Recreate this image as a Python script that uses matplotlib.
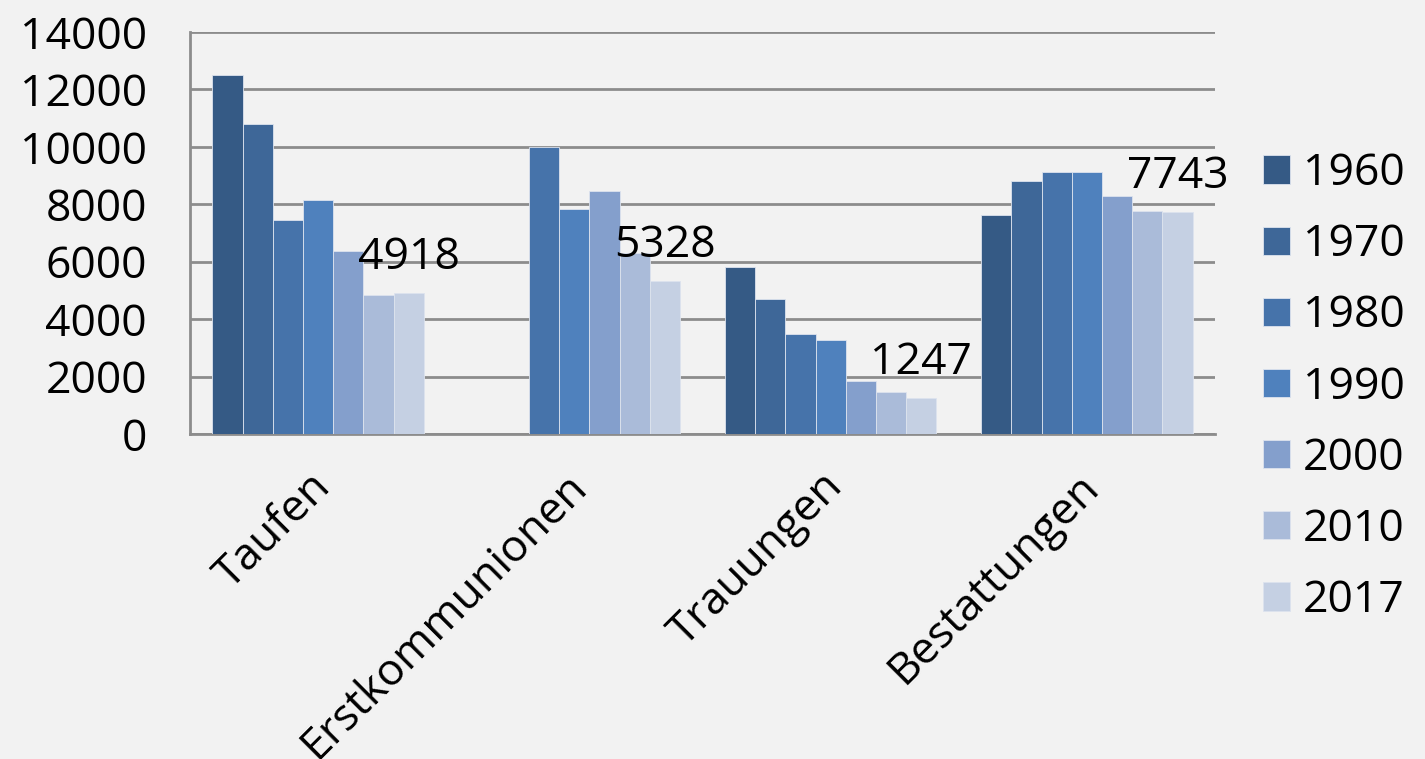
import numpy as np
import matplotlib.pyplot as plt
from matplotlib.transforms import ScaledTranslation

categories = ["Taufen", "Erstkommunionen", "Trauungen", "Bestattungen"]
years = ["1960", "1970", "1980", "1990", "2000", "2010", "2017"]
v1960 = [12500, np.nan, 5830, 7620]
v1970 = [10780, np.nan, 4710, 8810]
v1980 = [7470, 10000, 3480, 9130]
v1990 = [8160, 7820, 3290, 9130]
v2000 = [6370, 8460, 1830, 8290]
v2010 = [4830, 6310, 1450, 7760]
v2017 = [4918, 5328, 1247, 7743]
series = [v1960, v1970, v1980, v1990, v2000, v2010, v2017]
colors = ["#355A85", "#3E6798", "#4673AA", "#4F81BD", "#849FCC", "#AABBD9", "#C5D0E3"]

plt.rcParams['font.family'] = ['Open Sans', 'DejaVu Sans']

fig = plt.figure(figsize=(14.25, 7.59), dpi=100, facecolor="#F2F2F2")
ax = fig.add_axes([190/1425, 1-434/759, 1025/1425, 402/759])
ax.set_facecolor("#F2F2F2")

x = np.arange(len(categories))
w = 0.826/7
for i, (vals, c, yr) in enumerate(zip(series, colors, years)):
    pos = x - 0.413 + w*(i+0.5)
    ax.bar(pos, vals, w, color=c, edgecolor="#DDE3EE", linewidth=0.6, label=yr, zorder=3)
    if yr == "2017":
        for p, v in zip(pos, vals):
            ax.text(p, v + 450, str(v), ha="center", va="bottom", fontsize=32, color="black", zorder=4)

ax.set_xlim(-0.5, 3.5)
ax.set_ylim(0, 14000)
ax.set_yticks(range(0, 14001, 2000))
ax.yaxis.grid(True, color="#8C8C8C", linewidth=2, zorder=0)
ax.set_axisbelow(True)
for s in ["top", "right"]:
    ax.spines[s].set_visible(False)
for s in ["left", "bottom"]:
    ax.spines[s].set_color("#8C8C8C")
    ax.spines[s].set_linewidth(2)
ax.tick_params(axis="y", length=0, pad=31, labelsize=32)
ax.tick_params(axis="x", length=0, pad=22, labelsize=32)
ax.set_xticks(x)
ax.set_xticklabels(categories, rotation=45, ha="right", rotation_mode="anchor")
shift = ScaledTranslation(-10/100, 0, fig.dpi_scale_trans)
for lab in ax.get_xticklabels():
    lab.set_transform(lab.get_transform() + shift)

ax.legend(loc="center left", bbox_to_anchor=(1.047, 0.116), frameon=False, fontsize=32,
          handlelength=0.6, handleheight=0.6, handletextpad=0.3, labelspacing=0.6,
          borderaxespad=0, borderpad=0)

fig.savefig("out.png", dpi=100, facecolor=fig.get_facecolor())
